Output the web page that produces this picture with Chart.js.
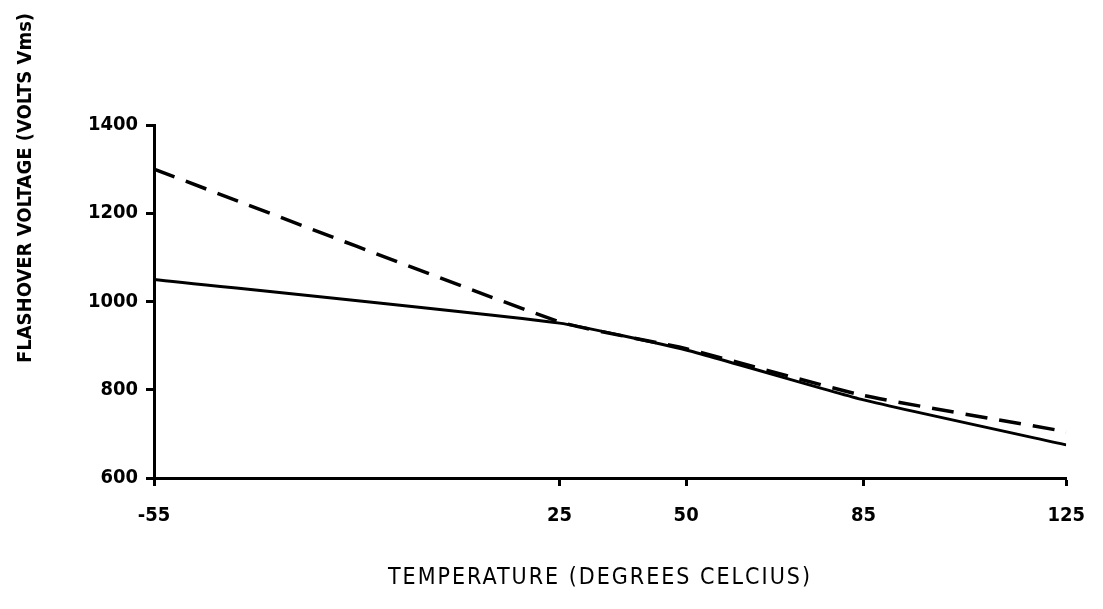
<!DOCTYPE html>
<html>
<head>
<meta charset="utf-8">
<script src="https://cdn.jsdelivr.net/npm/chart.js@4.4.1/dist/chart.umd.min.js"></script>
<style>
  html, body { margin: 0; padding: 0; background: #fff; }
  #wrap { width: 1103px; height: 609px; }
</style>
</head>
<body>
<div id="wrap"><canvas id="flashChart" width="1103" height="609"></canvas></div>
<script>
// Temperature points (degrees C) and flashover voltages (V rms)
const temps = [-55, 25, 50, 85, 125];
const solidVolts = [1050, 951, 890, 777, 675];
const dashedVolts = [1300, 954, 893, 787, 705];
const xTicks = [-55, 25, 50, 85, 125];
const yTicks = [600, 800, 1000, 1200, 1400];

const xTitle = 'TEMPERATURE (DEGREES CELCIUS)';
const yTitle = 'FLASHOVER VOLTAGE (VOLTS Vms)';

const tickFont = { family: '"DejaVu Sans Condensed", "DejaVu Sans", sans-serif', size: 20, weight: 'bold' };

function toPoints(xs, ys) {
    return xs.map((x, i) => ({ x: x, y: ys[i] }));
}

// axis titles drawn at fixed spots around the plot
const axisTitles = {
    id: 'axisTitles',
    afterDraw(chart) {
        const ctx = chart.ctx;
        ctx.save();
        ctx.fillStyle = '#000';
        ctx.textAlign = 'center';
        ctx.textBaseline = 'middle';

        ctx.font = '23px "DejaVu Sans Condensed", "DejaVu Sans", sans-serif';
        ctx.letterSpacing = '2px';
        ctx.fillText(xTitle, 600, 578);

        ctx.letterSpacing = '0px';
        ctx.translate(26, 188);
        ctx.rotate(-Math.PI / 2);
        ctx.font = 'bold 20px "DejaVu Sans Condensed", "DejaVu Sans", sans-serif';
        ctx.fillText(yTitle, 0, 0);
        ctx.restore();
    }
};

new Chart(document.getElementById('flashChart'), {
    type: 'line',
    data: {
        datasets: [
            {
                label: 'solid',
                data: toPoints(temps, solidVolts),
                borderColor: '#000',
                borderWidth: 3,
                pointRadius: 0,
                tension: 0.15,
                fill: false
            },
            {
                label: 'dashed',
                data: toPoints(temps, dashedVolts),
                borderColor: '#000',
                borderWidth: 3.5,
                borderDash: [22, 12],
                pointRadius: 0,
                tension: 0.15,
                fill: false
            }
        ]
    },
    options: {
        responsive: false,
        animation: false,
        devicePixelRatio: 1,
        layout: { padding: { left: 0, top: 125, right: 35, bottom: 0 } },
        plugins: {
            legend: { display: false },
            tooltip: { enabled: false }
        },
        scales: {
            x: {
                type: 'linear',
                min: -55,
                max: 125,
                afterBuildTicks: scale => { scale.ticks = xTicks.map(v => ({ value: v })); },
                afterFit: scale => { scale.height = 609 - 478; },
                border: { display: true, color: '#000', width: 3 },
                grid: { drawOnChartArea: false, drawTicks: true, tickLength: 8, tickColor: '#000', tickWidth: 3 },
                ticks: { color: '#000', font: tickFont, padding: 18, maxRotation: 0, callback: v => String(v) }
            },
            y: {
                type: 'linear',
                min: 600,
                max: 1400,
                afterBuildTicks: scale => { scale.ticks = yTicks.map(v => ({ value: v })); },
                afterFit: scale => { scale.width = 154; },
                border: { display: true, color: '#000', width: 3 },
                grid: { drawOnChartArea: false, drawTicks: true, tickLength: 8, tickColor: '#000', tickWidth: 3 },
                ticks: { color: '#000', font: tickFont, padding: 8, callback: v => String(v) }
            }
        }
    },
    plugins: [axisTitles]
});
</script>
</body>
</html>
